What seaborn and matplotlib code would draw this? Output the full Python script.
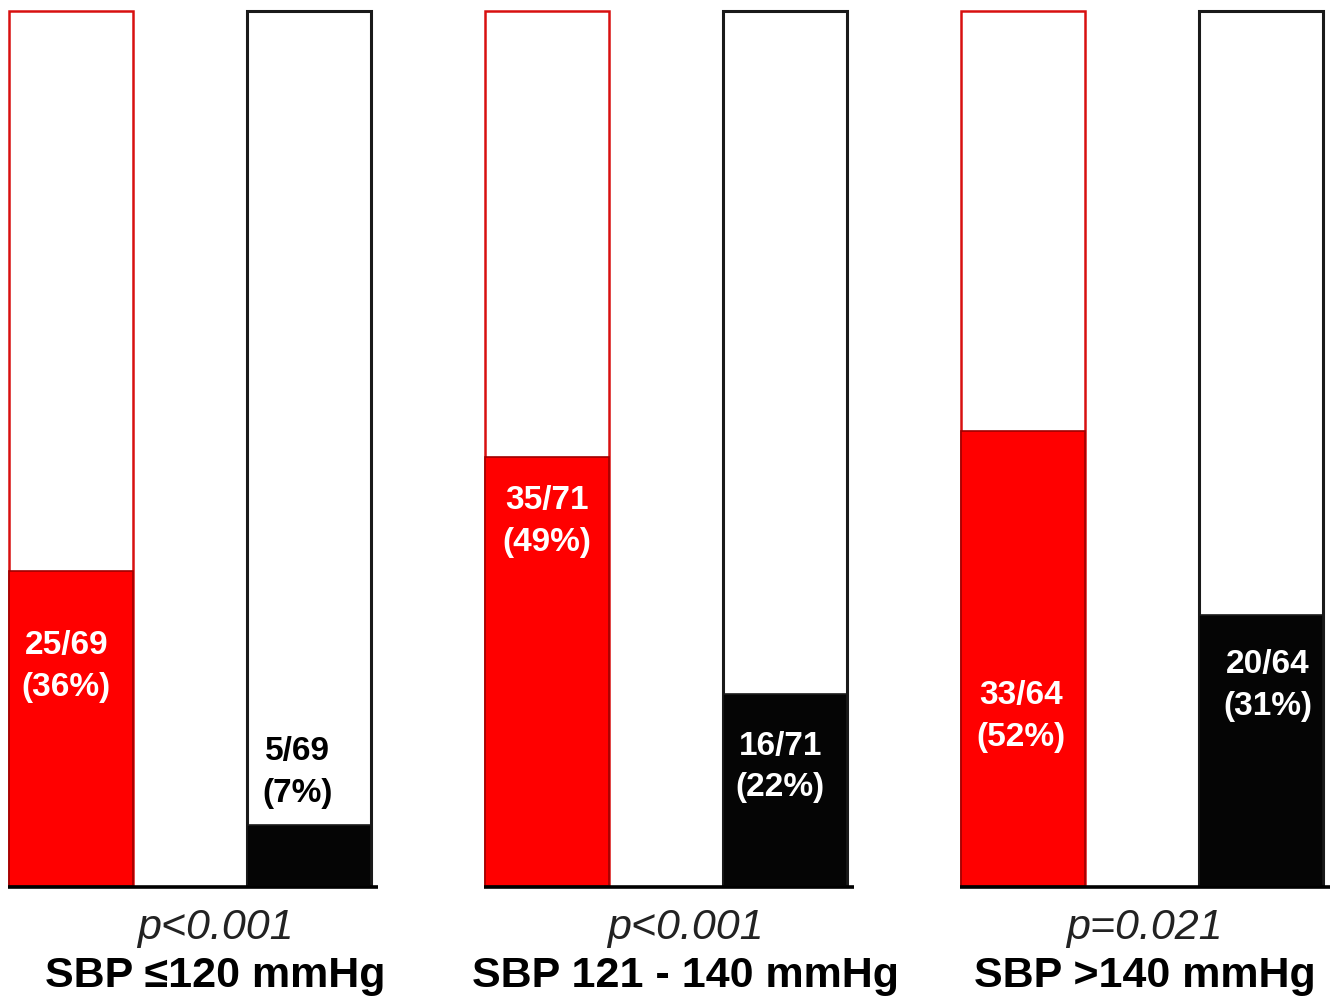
import numpy as np
import pandas as pd
import matplotlib
matplotlib.use("Agg")
import matplotlib.pyplot as plt
import matplotlib.transforms as mtransforms
import seaborn as sns

# ---------------- data ----------------
groups = ["SBP \u2264120 mmHg", "SBP 121 - 140 mmHg", "SBP >140 mmHg"]
p_values = ["p<0.001", "p<0.001", "p=0.021"]
red_events = [25, 35, 33]
black_events = [5, 16, 20]
totals = [69, 71, 64]
red_pct = [36, 49, 52]
black_pct = [7, 22, 31]

# ---------------- layout / style ----------------
red_fill = "#FF0000"
red_edge_top = "#D81010"
red_edge_fill = "#A00000"
black_fill = "#050505"
black_edge = "#1A1A1A"
label_y = [25.1, 13.0, 41.7, 13.6, 19.4, 22.9]       # label centres (data units)
label_dx = [-0.02, -0.05, 0.0, -0.02, -0.01, 0.03]
label_colors = ["white", "black", "white", "white", "white", "white"]
group_text_x = [0.605, 2.58, 4.51]

sns.set_theme(style="white")
plt.rcParams["font.family"] = ["Liberation Sans", "DejaVu Sans"]

rows = []
for g, r, b, t, rp, bp in zip(groups, red_events, black_events, totals, red_pct, black_pct):
    rows.append(dict(group=g, arm="red", n=r, total=t, pct=rp, full=100.0))
    rows.append(dict(group=g, arm="black", n=b, total=t, pct=bp, full=100.0))
df = pd.DataFrame(rows)
df["bar"] = [f"{i}" for i in range(len(df))]

fig = plt.figure(figsize=(13.4, 10.05), dpi=100)
ax = fig.add_axes([0, (1005 - 886) / 1005, 1, 875 / 1005])

fill_colors = [red_fill if a == "red" else black_fill for a in df["arm"]]
width = 124 / 238

# background (100%) outlined bars
sns.barplot(data=df, x="bar", y="full", hue="bar", palette=["white"] * len(df),
            legend=False, width=width, saturation=1, ax=ax, linewidth=2.0)
n_bg = len(ax.patches)
for p, a in zip(ax.patches[:n_bg], df["arm"]):
    p.set_edgecolor(red_edge_top if a == "red" else black_edge)
    p.set_linewidth(1.8 if a == "red" else 2.2)
    p.set_clip_on(False)

# filled portions
sns.barplot(data=df, x="bar", y="pct", hue="bar", palette=fill_colors,
            legend=False, width=width, saturation=1, ax=ax, linewidth=1.2)
for p, a in zip(ax.patches[n_bg:], df["arm"]):
    p.set_edgecolor(red_edge_fill if a == "red" else black_edge)
    p.set_clip_on(False)

ax.set_xlim(-71 / 238, -71 / 238 + 1340 / 238)
ax.set_ylim(0, 100)
ax.axis("off")

# labels inside bars
for i, row in df.iterrows():
    ax.text(i + label_dx[i], label_y[i],
            f"{row['n']}/{row['total']}\n({row['pct']}%)",
            ha="center", va="center", fontsize=24, fontweight="bold",
            color=label_colors[i], linespacing=1.45)

# baselines under each group
for gi in range(len(groups)):
    x0 = 2 * gi - width / 2 - 0.005
    x1 = 2 * gi + 1 + width / 2 + 0.03
    ax.plot([x0, x1], [-0.15, -0.15], color="black", lw=2.6,
            solid_capstyle="butt", clip_on=False)

trans = mtransforms.blended_transform_factory(ax.transData, fig.transFigure)
for gi, (g, pv) in enumerate(zip(groups, p_values)):
    ax.text(group_text_x[gi], (1005 - 928) / 1005, pv, transform=trans,
            ha="center", va="center", fontsize=31, fontstyle="italic",
            color="#222222")
    ax.text(group_text_x[gi], (1005 - 976) / 1005, g, transform=trans,
            ha="center", va="center", fontsize=31, fontweight="bold",
            color="black")

fig.savefig("out.png", dpi=100, facecolor="white")
